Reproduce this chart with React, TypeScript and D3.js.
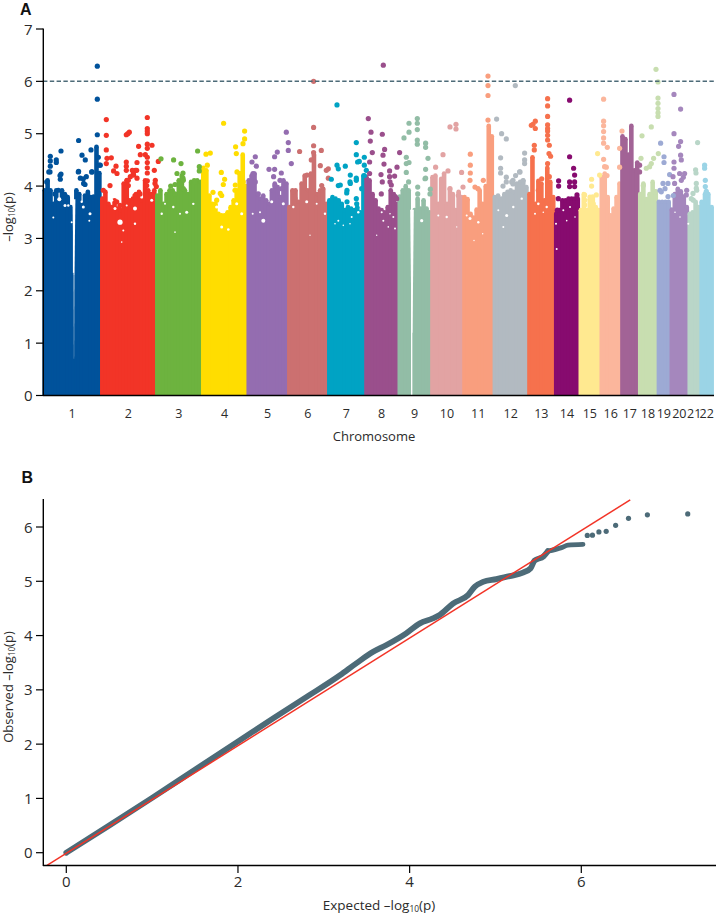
import React from "react";
import * as d3 from "d3";

// ---------- Panel A data ----------
const chromNames = ["1","2","3","4","5","6","7","8","9","10","11","12","13","14","15","16","17","18","19","20","21","22"];
const chromLengths = [57.5,55,46,45.5,40.5,40,37.2,33.3,32.7,32,30.3,34.7,26.7,24.6,21,20.7,17.7,18.6,13,18,11.7,13.3];
const chromColors = ["#00529b","#f23427","#6db33f","#ffdd00","#946db0","#cc7070","#00a3c4","#9a4f8c","#92bda6","#e2a3a3","#f99e7e","#b2bac1","#f6714d","#870b6f","#ffe990","#fbb69c","#a26396","#c8deb0","#9daad4","#a587bd","#b9d6c8","#9bd4e6"];

// top of the solid point cloud, evenly spaced along each chromosome
const chromTops: number[][] = [
  [3.92,4.11,3.92,3.66,3.92,3.73,3.92,3.85,3.79,3.6,2.3,3.92,3.85,3.66,3.82,3.89,3.79,3.8,4.75,4.25],
  [3.76,3.89,3.66,3.6,3.73,3.57,3.54,4.05,4.11,3.73,3.76,3.85,3.89,3.73,4.11,3.92,3.85,3.92],
  [3.82,3.92,3.66,3.85,3.92,3.92,3.79,4.11,4.2,3.92,3.85,4.08,4.11,4.11,4.08],
  [4.35,4.3,3.82,3.66,3.66,3.47,3.44,3.44,3.5,3.6,3.73,3.92,4.24,4.6,4.0],
  [4.11,4.2,4.24,3.85,3.76,3.82,3.73,3.66,3.92,4.05,3.98,3.79,4.11,4.05],
  [3.6,3.92,3.92,3.7,4.05,4.2,3.92,4.24,4.6,3.85,3.92,3.95,3.66],
  [3.73,3.79,3.76,3.73,3.66,3.54,3.6,3.57,3.54,3.6,3.5,4.2],
  [4.17,4.11,3.85,3.73,3.57,3.54,3.5,3.6,3.92,3.85,3.66],
  [3.8,3.92,4.0,3.92,0,3.54,3.76,3.57,3.73,3.57,3.5],
  [4.17,4.2,3.66,4.14,4.24,3.66,3.95,3.85,3.54,3.89,3.79],
  [3.79,3.75,3.47,3.4,3.55,3.92,3.66,4.0,5.15,4.95],
  [3.79,3.82,3.76,3.85,3.89,3.92,3.89,4.05,4.08,4.11,3.98],
  [3.85,4.55,3.66,4.1,4.05,3.73,4.35,4.08,3.79],
  [3.47,3.54,3.73,3.73,3.76,3.76,3.76,3.76],
  [3.54,3.85,3.54,3.75,3.8,3.6,3.54],
  [4.17,4.24,3.79,3.44,3.57,3.79,4.05],
  [4.95,4.9,4.6,5.15,4.3,4.45],
  [3.85,4.05,3.75,3.85,4.08,3.9],
  [3.7,3.7,3.7,3.7],
  [3.55,3.85,3.95,3.9,3.8,3.6],
  [3.47,3.5,3.7,3.6],
  [3.7,3.85,3.85,3.6],
];

// individual points above the cloud: [genome position, -log10 p]
const peaks: number[][][] = [
  [[54,6.29],[54,5.66],[54,4.98],[35.3,4.87],[17.7,4.67],[7,4.57],[7,4.48],[7,4.38],[13,4.5],[13,4.45],[5.5,4.27],[17.7,4.23],[17,4.13],[38.7,4.59],[42,4.5],[47.7,4.69],[35.3,4.28],[48.7,4.27],[37,4.15],[43,4.18],[40.3,4.05],[55,4.55],[56,4.4],[57,4.4],[3.4,4.08],[16.7,4.2],[6.7,4.27],[35,4.27],[40,4.14],[41.7,4.03],[48.4,4.27],[11.7,3.85],[21.7,3.82],[15,3.92]],
  [[63,5.27],[63,4.97],[63,4.69],[63.7,4.53],[68,4.54],[63,4.43],[72.7,4.38],[70.3,4.29],[73.7,4.24],[83,4.98],[86,5.03],[84.5,5.0],[83,4.46],[83,4.38],[83,4.3],[83.7,4.11],[93.7,4.45],[95.3,4.76],[89,4.3],[92,4.3],[90.3,4.21],[87,4.18],[93.7,4.15],[104,5.31],[104,5.1],[104,5.05],[104,5.0],[104,4.8],[108.7,4.78],[104,4.72],[97,4.6],[102,4.6],[104,4.55],[104,4.45],[104,4.35],[104,4.25],[111,4.3],[115,4.47],[104,4.1],[112,4.11],[113,3.99],[66.7,4.01],[60,3.92],[73.4,3.7],[85,4.11],[85,4.01],[91.7,3.82],[96.7,3.85],[103.4,4.01],[111.7,4.05],[90,4.24],[93.4,4.3],[76.7,3.63]],
  [[117.7,4.52],[130.3,4.5],[137.7,4.43],[154.3,4.67],[156,4.37],[156,4.29],[133.7,4.24],[139.7,4.25],[139.7,4.15],[131.7,4.03],[127.4,4.0],[140,4.11],[151.7,4.08],[140,3.95],[131.7,3.85]],
  [[180.3,5.2],[201.3,5.05],[201.3,4.9],[199.7,4.81],[192.3,4.75],[193,4.62],[167,4.63],[162.7,4.61],[164,4.4],[178,4.26],[181.3,4.13],[169.7,3.88],[177,3.86],[193.7,4.27],[192,4.02],[180,4.03],[178.4,3.82],[173.4,3.73],[191.7,3.92],[196.7,4.24],[200,4.08]],
  [[243,5.03],[245,4.83],[245,4.68],[248,4.43],[234,4.65],[231.3,4.56],[212,4.56],[208.7,4.46],[213,4.38],[225.7,4.32],[231.3,4.32],[238,4.25],[230.3,4.18],[209.7,4.24],[212,4.08],[231.7,4.01],[236.7,4.11],[238.4,3.95],[215,3.85]],
  [[270.3,6.0],[270.3,5.12],[270.3,4.77],[270.3,4.64],[256.3,4.66],[278,4.68],[277,4.39],[283,4.3],[285,4.33],[285,4.15],[263.7,4.21],[268,4.5],[250,3.89],[251.7,3.76],[278.4,4.01]],
  [[293.7,5.55],[313,4.83],[313,4.6],[314.3,4.46],[293.7,4.4],[295,4.33],[302,4.38],[288,4.13],[297,4.02],[307,4.21],[313,4.15],[307,4.05],[303.7,3.92],[313,3.76],[303.7,3.7],[321,4.55],[321,4.4],[323,4.3],[321,4.2],[316,4.47],[313,4.11],[295,4.01],[306.7,4.08],[303.4,3.87],[318.4,3.95],[313.4,3.66]],
  [[340,6.31],[325,5.29],[327.7,5.03],[327,4.86],[339,4.99],[329,4.64],[341.3,4.7],[339.7,4.59],[356.3,4.64],[340.7,4.42],[326.3,4.46],[326.3,4.24],[353.7,4.36],[346.3,4.29],[337.7,4.22],[339,4.08],[346.3,4.18],[351.3,4.19],[338,3.85],[348,4.02],[352,3.8],[346.7,4.08],[353.4,3.76]],
  [[374,5.29],[374,5.2],[374,5.08],[365.7,5.2],[365.7,5.03],[360.7,4.92],[374,4.88],[374,4.8],[382.3,4.82],[382.3,4.74],[384.7,4.53],[363,4.55],[363,4.43],[365.7,4.45],[363,4.26],[382.3,4.32],[382.3,4.15],[365.3,4.08],[374.4,3.98],[374.4,3.85],[387,3.94],[386.7,3.85],[381.7,4.14]],
  [[406.7,5.13],[412.7,5.18],[412.7,5.09],[399.7,4.6],[392.3,4.36],[404.7,4.29],[418.3,4.26],[419.7,3.98],[406.7,3.95],[415,3.82]],
  [[444.7,6.1],[444.7,5.92],[444.7,5.73],[444.7,5.26],[427,4.61],[427,4.4],[427,4.25],[434.7,3.95],[426.7,4.11],[431.7,3.98],[440,4.11]],
  [[472,5.92],[453.3,5.28],[458.3,5.0],[463,4.9],[481.3,4.63],[481.3,4.5],[481.3,4.43],[457.3,4.54],[457.3,4.34],[457.3,4.25],[463,4.17],[463,4.08],[459.7,4.0],[469.7,4.11],[469.7,4.04],[476.3,4.27],[472.3,4.2],[479.7,4.1],[468.4,4.08],[476.7,4.27]],
  [[504.3,5.67],[504.3,5.53],[504.3,5.33],[504.3,5.17],[504.3,5.1],[504.3,5.05],[504.3,4.97],[489.7,5.18],[492,5.24],[492,5.1],[488,5.16],[504.3,4.88],[506,4.78],[505.7,4.62],[507.3,4.57],[491,4.78],[491,4.69],[504.3,4.43],[506,4.18],[498.4,4.14],[495,3.92]],
  [[526.3,5.64],[526.3,4.56],[530.3,4.34],[531.3,4.21],[526.3,4.08],[531.3,4.08],[526.3,3.99],[531.3,3.99],[515.3,4.1],[515.3,4.0],[533.7,3.83],[515,3.76],[514,3.54]],
  [[554.3,4.62],[556.3,4.21],[548.3,4.13],[548.3,4.0],[541.3,3.83],[541.3,3.73],[541.3,3.64],[553,3.83],[546.7,3.79],[550,3.66]],
  [[560.3,5.66],[560.3,5.24],[560.3,5.15],[560.3,5.04],[560.3,4.92],[560.3,4.82],[564,4.74],[560.3,4.51],[561.3,4.37],[563,4.36],[563.7,4.2],[576.3,4.72],[576.3,4.36],[578.7,5.05]],
  [[596.3,4.4],[596.3,4.27]],
  [[612.7,6.23],[614.7,5.99],[614.7,5.68],[614.7,5.58],[614.7,5.48],[614.7,5.4],[614.7,5.33],[608,5.13],[598.7,4.96],[615,4.62],[597.7,4.53],[610.3,4.53],[608,4.43],[603,4.34],[606.3,4.37],[600,4.01],[611.7,3.89]],
  [[617.3,4.82],[620.7,4.56],[620.7,4.45],[626.3,4.22],[619.7,4.05],[624.7,4.05],[621.7,3.95],[618,3.89],[624.7,3.8],[616.7,3.92],[630,3.82]],
  [[630.7,5.75],[637.3,5.47],[630.7,5.0],[637.3,4.85],[635.3,4.76],[637.3,4.59],[638,4.5],[630.7,4.46],[630.7,4.34],[636.3,4.24],[641.3,4.24],[629.7,4.18],[631.3,4.05],[638,4.11],[643,3.83],[640,4.17],[643.4,3.92]],
  [[654.3,4.83],[652.3,4.31],[652.7,4.25],[653,4.05],[653,3.96],[649.7,3.86],[648,3.76],[653.4,3.92],[650,3.73]],
  [[661.3,4.4],[661.3,4.34],[662,4.11],[662,3.99],[663,3.9],[663.4,3.76]],
];

// white holes left in the dense cloud: [genome position, -log10 p, size]
const cloudHoles: number[][] = [
  [10,3.4,1],[16,3.75,2],[21.7,3.63,1.5],[40,3.6,1.5],[46.7,3.47,1.5],[46,3.34,1],[28.4,3.31,1],[25,3.63,1.2],[38.4,3.7,1.2],
  [76.7,3.31,2.6],[71.7,3.57,1.5],[91.7,3.57,2],[91.7,3.28,1.2],[78.4,2.93,0.8],[80,3.15,1],[68.4,3.73,1.5],[98.4,3.79,1.5],[108.4,3.73,1.5],[83.4,3.63,1],
  [118.4,3.47,1.2],[130,3.6,1.2],[143.4,3.5,1.5],[131.7,3.12,0.8],[136.7,3.47,1],[150,3.66,1.2],[121.7,3.66,1],
  [178.4,3.22,1.5],[185,3.17,1.3],[173.4,3.6,1.6],[198.4,3.47,1.5],[193.4,3.66,1.5],
  [220,3.34,2],[209.4,3.47,1],[228.4,3.7,1.5],[240,3.66,1.5],[216.7,3.5,1],
  [263.4,3.7,1.5],[273.4,3.66,1],[281.7,3.47,1.2],[266.7,3.06,0.7],[250,3.6,1.2],
  [295,3.34,1],[300,3.25,0.8],[308.4,3.41,1],[315,3.5,1.2],[291.7,3.28,0.8],[306.7,3.28,0.8],
  [338.4,3.5,1],[340,3.34,1],[345,3.22,0.8],[351.7,3.19,1],[350,3.41,1],[333.4,3.06,0.7],[346.7,3.47,0.8],
  [378.4,3.34,1.6],[403.4,3.41,1.2],[413.4,3.22,0.7],[395,3.44,1],
  [426.7,3.38,1.5],[430.7,2.96,0.7],[435,3.31,1.2],[423.4,3.44,1],
  [463.4,3.44,1.5],[460,3.22,1],[470,3.6,1.2],[478.4,3.76,1.2],[455,3.54,1],[439.4,3.09,0.7],
  [495,3.66,1.3],[503.4,3.6,1.2],[491.7,3.47,1],[500,3.5,0.8],
  [520,3.54,1],[526.7,3.6,1],[523.4,3.34,0.8],[531.7,3.41,0.8],[512.7,3.28,1],[513.4,2.8,1],
  [636.7,3.41,0.8],[645,3.28,1],[631.7,3.5,0.8],
];

// the white centromere gaps: [genome position, upper value, lower value, upper width, lower width]
const centromereGaps: number[][] = [
  [30.7,3.75,2.3,2.8,1],
  [30.7,2.3,0.7,0.8,0.2],
  [368.7,3.55,1.2,3.6,1],
];

const thresholdValue = 6;
const yTicksA = [0,1,2,3,4,5,6,7];

// ---------- Panel B data ----------
const qqCurve = [[0,0],[0.5,0.5],[1,1.01],[1.5,1.53],[2.02,2.07],[2.41,2.475],[2.8,2.87],[3.19,3.27],[3.38,3.49],[3.575,3.7],[3.73,3.825],[3.96,4.04],[4.12,4.225],[4.27,4.315],[4.35,4.38],[4.505,4.59],[4.68,4.745],[4.76,4.9],[4.855,4.99],[5.01,5.04],[5.165,5.095],[5.32,5.16],[5.41,5.24],[5.455,5.38],[5.56,5.46],[5.61,5.555]];
const qqTail = [[5.61,5.555],[5.77,5.62],[5.845,5.665],[6.02,5.68]];
const qqPoints = [[6.07,5.845],[6.13,5.85],[6.205,5.91],[6.29,5.92],[6.4,6.03],[6.55,6.16],[6.77,6.225],[7.24,6.24]];
const qqRefLine = [[-0.225,-0.235],[6.57,6.5]];
const xTicksB = [0,2,4,6];
const yTicksB = [0,1,2,3,4,5,6];

const FONT = "'Open Sans', sans-serif";
const HEAD_FONT = "'Liberation Sans', sans-serif";
const INK = "#2b2b2b";
const SLATE = "#4d6b78";

function LogLabel({ prefix, x, y, rotate, size }: { prefix: string; x: number; y: number; rotate?: boolean; size: number }) {
  return (
    <text x={x} y={y} transform={rotate ? `rotate(-90 ${x} ${y})` : undefined} textAnchor="middle" fontFamily={FONT} fontSize={size} fill={INK}>
      {prefix}–log<tspan fontSize={size * 0.62} dy={2}>10</tspan><tspan dy={-2}>(p)</tspan>
    </text>
  );
}

export default function App() {
  const totalLength = d3.sum(chromLengths);
  const starts = d3.cumsum([0, ...chromLengths]);
  const xA = d3.scaleLinear().domain([0, totalLength]).range([43.3, 713.3]);
  const yA = d3.scaleLinear().domain([0, 7]).range([395.5, 29]);
  const xB = d3.scaleLinear().domain([0, 6]).range([66.3, 581.3]);
  const yB = d3.scaleLinear().domain([0, 6]).range([852.7, 527]);
  const curveLine = d3.line<number[]>().x(d => xB(d[0])).y(d => yB(d[1])).curve(d3.curveMonotoneX);
  const capWidth = 4.6;

  return (
    <svg width={716} height={915} style={{ position: "absolute", left: 0, top: 0, display: "block", background: "#fff" }}>
      {/* Panel A */}
      <text x={20} y={14.5} fontFamily={HEAD_FONT} fontSize={16} fontWeight={700} fill="#111">A</text>
      {chromNames.map((name, c) => {
        const n = chromTops[c].length;
        const step = chromLengths[c] / n;
        return (
          <g key={name} fill={chromColors[c]}>
            {chromTops[c].map((top, i) => {
              const cx = xA(starts[c] + (i + 0.5) * step);
              if (top <= 0) return null;
              return (
                <g key={i}>
                  <rect x={cx - capWidth / 2} y={yA(top)} width={capWidth} height={yA(0) - yA(top)} />
                  <circle cx={cx} cy={yA(top)} r={capWidth / 2} />
                </g>
              );
            })}
          </g>
        );
      })}
      {cloudHoles.map((h, i) => <circle key={i} cx={xA(h[0])} cy={yA(h[1])} r={h[2]} fill="#fff" />)}
      {centromereGaps.map((g, i) => (
        <polygon key={i} fill="#fff" points={[
          [xA(g[0]) - g[3] / 2, yA(g[1])], [xA(g[0]) + g[3] / 2, yA(g[1])],
          [xA(g[0]) + g[4] / 2, yA(g[2])], [xA(g[0]) - g[4] / 2, yA(g[2])],
        ].map(p => p.join(",")).join(" ")} />
      ))}
      {chromNames.map((name, c) => (
        <g key={name} fill={chromColors[c]}>
          {peaks[c].map((p, i) => <circle key={i} cx={xA(p[0])} cy={yA(p[1])} r={2.6} />)}
        </g>
      ))}
      <line x1={43} x2={716} y1={yA(thresholdValue)} y2={yA(thresholdValue)} stroke={SLATE} strokeWidth={1.5} strokeDasharray="4.4 2.4" />
      <line x1={43.3} x2={43.3} y1={yA(7) - 0.6} y2={yA(0) + 0.6} stroke="#000" strokeWidth={1.4} />
      <line x1={43} x2={714} y1={yA(0)} y2={yA(0)} stroke="#000" strokeWidth={1.4} />
      {yTicksA.map(t => (
        <g key={t}>
          <line x1={36} x2={43} y1={yA(t)} y2={yA(t)} stroke="#000" strokeWidth={1.2} />
          <text x={32.5} y={yA(t) + 5.5} textAnchor="end" fontFamily={FONT} fontSize={15} fill={INK}>{t}</text>
        </g>
      ))}
      {starts.map((s, i) => <line key={i} x1={xA(s)} x2={xA(s)} y1={yA(0)} y2={403} stroke="#000" strokeWidth={1.2} />)}
      {chromNames.map((name, c) => (
        <text key={name} x={xA(starts[c] + chromLengths[c] / 2)} y={417.5} textAnchor="middle" fontFamily={FONT} fontSize={12.5} fill={INK}>{name}</text>
      ))}
      <text x={374} y={441} textAnchor="middle" fontFamily={FONT} fontSize={13} fill={INK}>Chromosome</text>
      <LogLabel prefix="" x={12.5} y={217} rotate size={13} />

      {/* Panel B */}
      <text x={21.5} y={483} fontFamily={HEAD_FONT} fontSize={16} fontWeight={700} fill="#111">B</text>
      <path d={curveLine(qqCurve) || ""} fill="none" stroke={SLATE} strokeWidth={5.8} strokeLinecap="round" strokeLinejoin="round" />
      <path d={curveLine(qqTail) || ""} fill="none" stroke={SLATE} strokeWidth={4.8} strokeLinecap="round" strokeLinejoin="round" />
      {qqPoints.map((p, i) => <circle key={i} cx={xB(p[0])} cy={yB(p[1])} r={2.6} fill={SLATE} />)}
      <line x1={xB(qqRefLine[0][0])} y1={yB(qqRefLine[0][1])} x2={xB(qqRefLine[1][0])} y2={yB(qqRefLine[1][1])} stroke="#f23427" strokeWidth={1.5} />
      <line x1={43.3} x2={43.3} y1={499} y2={866} stroke="#000" strokeWidth={1.4} />
      <line x1={43} x2={716} y1={865.5} y2={865.5} stroke="#000" strokeWidth={1.4} />
      {yTicksB.map(t => (
        <g key={t}>
          <line x1={36} x2={43} y1={yB(t)} y2={yB(t)} stroke="#000" strokeWidth={1.2} />
          <text x={32.5} y={yB(t) + 5.5} textAnchor="end" fontFamily={FONT} fontSize={15} fill={INK}>{t}</text>
        </g>
      ))}
      {xTicksB.map(t => (
        <g key={t}>
          <line x1={xB(t)} x2={xB(t)} y1={865.5} y2={873} stroke="#000" strokeWidth={1.2} />
          <text x={xB(t)} y={887} textAnchor="middle" fontFamily={FONT} fontSize={15} fill={INK}>{t}</text>
        </g>
      ))}
      <LogLabel prefix="Expected " x={379} y={910} size={13.5} />
      <LogLabel prefix="Observed " x={12.5} y={687} rotate size={13} />
    </svg>
  );
}
